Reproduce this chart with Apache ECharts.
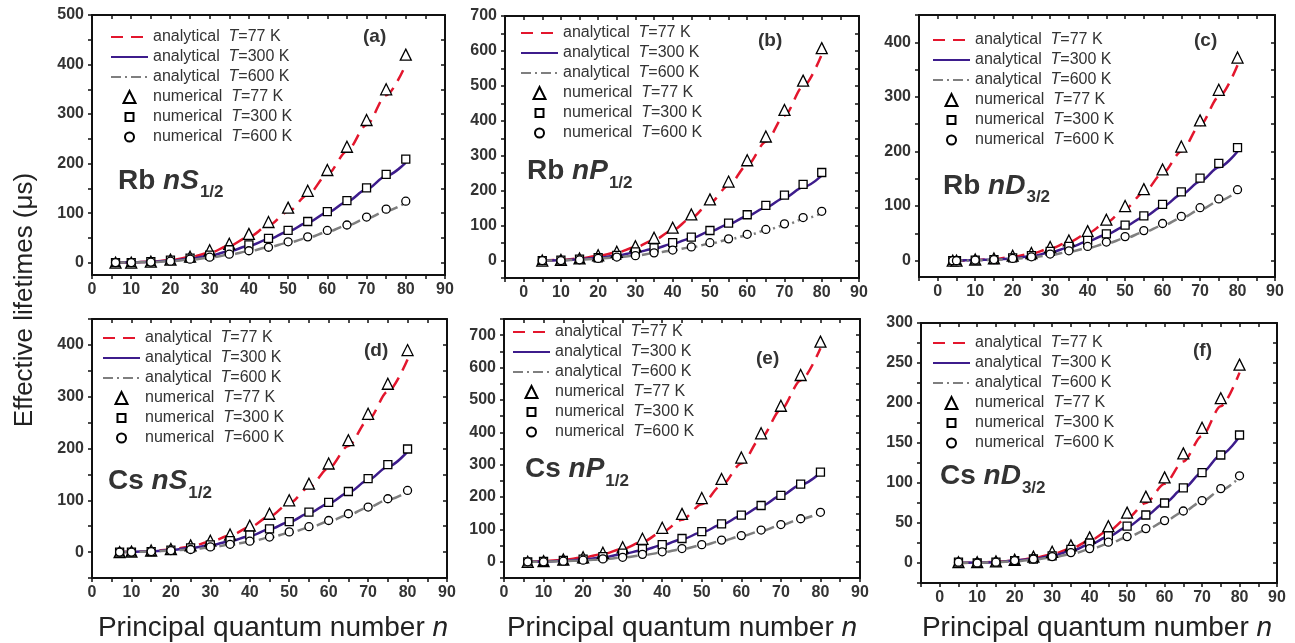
<!DOCTYPE html>
<html><head><meta charset="utf-8">
<script src="https://cdn.jsdelivr.net/npm/echarts@6/dist/echarts.min.js"></script>
<style>html,body{margin:0;padding:0;background:#fff}#c{width:1295px;height:643px}</style>
</head><body><div id="c"></div>
<script>
// ---------- DATA ----------
const seriesNames = ['analytical T=77 K','analytical T=300 K','analytical T=600 K','numerical T=77 K','numerical T=300 K','numerical T=600 K'];
const panelLetters = ['(a)','(b)','(c)','(d)','(e)','(f)'];
const xTickLabels = [0,10,20,30,40,50,60,70,80,90];

// (a) Rb nS1/2
const nA = [6,10,15,20,25,30,35,40,45,50,55,60,65,70,75,80];
const a_num77  = [0,0,2,6,12,25,38,58,82,111,145,187,234,288,350,420];
const a_num300 = [0,0,2,5,9,15,26,36,49,65,83,103,125,151,178,209];
const a_num600 = [0,0,1,3,7,11,17,24,31,42,52,65,76,92,108,124];
const a_ana77  = [0,0.5,2,5,11,20,34,52,75,103,137,178,225,278,338,400];
const a_ana300 = [0,0.5,2,4,8,14,23,34,47,63,81,101,123,148,175,202];
const a_ana600 = [0,0.3,1,3,6,10,16,23,31,40,50,62,75,89,104,121];
const yLabelsA = [0,100,200,300,400,500];

// (b) Rb nP1/2
const nB = [5,10,15,20,25,30,35,40,45,50,55,60,65,70,75,80];
const b_num77  = [0,2,6,15,25,41,65,94,132,175,226,287,355,431,515,608];
const b_num300 = [0,1,4,8,15,25,36,51,67,86,107,131,158,187,218,252];
const b_num600 = [0,0,2,6,10,14,22,30,39,51,62,75,89,105,123,141];
const b_ana77  = [0,2,6,13,23,38,59,87,122,165,215,273,340,415,498,590];
const b_ana300 = [0,1,4,8,14,23,34,48,64,83,104,127,152,180,210,243];
const b_ana600 = [0,0.5,2,5,9,14,21,29,38,48,60,72,86,101,118,136];
const yLabelsB = [0,100,200,300,400,500,600,700];

// (c) Rb nD3/2
const nC = [4,5,10,15,20,25,30,35,40,45,50,55,60,65,70,75,80];
const c_num77  = [0,0,2,4,9,14,25,37,54,75,100,131,167,209,257,313,372];
const c_num300 = [0,0,1,2,5,9,17,26,37,49,65,82,103,126,151,178,207];
const c_num600 = [0,0,1,2,4,7,12,18,26,34,44,55,68,81,97,113,130];
const c_ana77  = [0,0,1,3,7,13,22,34,50,70,95,125,160,200,248,300,358];
const c_ana300 = [0,0,1,2,4,8,15,24,35,48,63,80,99,121,145,171,200];
const c_ana600 = [0,0,0.5,1.5,3,6,10,16,23,31,41,52,64,78,93,109,127];
const yLabelsC = [0,100,200,300,400];

// (d) Cs nS1/2
const nD = [7,10,15,20,25,30,35,40,45,50,55,60,65,70,75,80];
const d_num77  = [0,1,3,6,13,22,34,51,74,100,132,171,216,267,325,390];
const d_num300 = [0,0,1,4,8,14,22,33,45,59,77,96,117,142,169,199];
const d_num600 = [0,0,1,3,5,10,15,21,29,39,49,61,74,87,103,119];
const d_ana77  = [0,0.5,2,5,11,20,32,48,69,94,125,162,205,255,310,372];
const d_ana300 = [0,0.5,1.5,4,8,13,21,31,44,58,75,94,115,139,165,194];
const d_ana600 = [0,0.3,1,3,5,9,14,20,28,37,47,59,72,86,101,117];
const yLabelsD = [0,100,200,300,400];

// (e) Cs nP1/2
const nE = [6,10,15,20,25,30,35,40,45,50,55,60,65,70,75,80];
const e_num77  = [0,2,7,14,28,45,71,105,148,197,256,322,397,482,577,680];
const e_num300 = [0,1,4,8,16,27,40,53,72,93,117,144,174,205,240,277];
const e_num600 = [0,0,2,5,9,14,23,31,41,53,67,81,98,115,133,153];
const e_ana77  = [0,2,6,13,24,40,62,92,130,178,236,304,383,470,560,660];
const e_ana300 = [0,1,3,7,14,24,36,51,70,91,115,142,172,204,238,275];
const e_ana600 = [0,0.5,2,4,8,13,20,29,39,51,64,79,95,113,132,152];
const yLabelsE = [0,100,200,300,400,500,600,700];

// (f) Cs nD3/2
const nF = [5,10,15,20,25,30,35,40,45,50,55,60,65,70,75,80];
const f_num77  = [1,1,2,4,8,14,22,32,46,63,83,107,137,169,206,248];
const f_num300 = [1,0,1,3,5,9,17,25,34,46,60,75,94,113,135,160];
const f_num600 = [1,0,1,3,5,8,13,18,26,33,43,53,65,78,93,109];
const f_ana77  = [0,0.5,1.5,3,6,11,18,28,40,56,75,99,127,159,196,238];
const f_ana300 = [0,0.5,1,3,5,9,15,23,33,45,59,75,93,113,135,158];
const f_ana600 = [0,0.3,1,2,4,7,11,17,24,32,41,52,64,77,91,107];
const yLabelsF = [0,50,100,150,200,250,300];

const panelTitles = [['Rb ','nS','1/2'],['Rb ','nP','1/2'],['Rb ','nD','3/2'],['Cs ','nS','1/2'],['Cs ','nP','1/2'],['Cs ','nD','3/2']];
const yAxisTitle = 'Effective lifetimes (\u03bcs)';
const xAxisTitle = ['Principal quantum number ', 'n'];

// ---------- LAYOUT ----------
const FONT = "'Liberation Sans', Arial, Helvetica, sans-serif";
const panels = [
  {n:nA, d:[a_ana77,a_ana300,a_ana600,a_num77,a_num300,a_num600], yl:yLabelsA, yStep:50,
   g:{left:92,top:15,width:353,height:260}, xmin:0, xmax:90, ymin:-25, ymax:500,
   leg:[110,27], let:[377,38], tit:[118,187,10]},
  {n:nB, d:[b_ana77,b_ana300,b_ana600,b_num77,b_num300,b_num600], yl:yLabelsB, yStep:50,
   g:{left:505,top:16,width:354,height:262}, xmin:-5, xmax:90, ymin:-50, ymax:700,
   leg:[520,23], let:[772,42], tit:[527,177,11]},
  {n:nC, d:[c_ana77,c_ana300,c_ana600,c_num77,c_num300,c_num600], yl:yLabelsC, yStep:50,
   g:{left:919,top:15,width:356,height:262}, xmin:-5, xmax:90, ymin:-30, ymax:450,
   leg:[932,30], let:[1208,42], tit:[943,192,10]},
  {n:nD, d:[d_ana77,d_ana300,d_ana600,d_num77,d_num300,d_num600], yl:yLabelsD, yStep:50,
   g:{left:92,top:319,width:355,height:259}, xmin:0, xmax:90, ymin:-50, ymax:450,
   leg:[102,328], let:[378,352], tit:[108,487,11]},
  {n:nE, d:[e_ana77,e_ana300,e_ana600,e_num77,e_num300,e_num600], yl:yLabelsE, yStep:50,
   g:{left:504,top:319,width:356,height:259}, xmin:0, xmax:90, ymin:-50, ymax:750,
   leg:[512,322], let:[770,360], tit:[525,475,11]},
  {n:nF, d:[f_ana77,f_ana300,f_ana600,f_num77,f_num300,f_num600], yl:yLabelsF, yStep:25,
   g:{left:921,top:323,width:356,height:260}, xmin:-5, xmax:90, ymin:-25, ymax:300,
   leg:[932,333], let:[1207,352], tit:[940,482,11]}
];

const AX = '#111', TXT = '#333';
const RED = '#e3162d', PURPLE = '#3d1c8c', GRAY = '#7f7f7f';
const lineStyles = [
  {color:RED, width:2.5, type:[12,8]},
  {color:PURPLE, width:2.5, type:'solid'},
  {color:GRAY, width:2.5, type:[10,4,2,4]}
];
const symbols = [['triangle',11],['rect',8],['circle',8]];
const legendSymSize = [12,8,9];

function range(a,b,s){const r=[];for(let v=a;v<=b+1e-9;v+=s)r.push(v);return r;}

const grid=[], xAxis=[], yAxis=[], series=[], legend=[], graphic=[];
const axisLabelStyle = {color:TXT, fontFamily:FONT, fontWeight:'bold', fontSize:16};

panels.forEach((p,i)=>{
  grid.push(Object.assign({containLabel:false}, p.g));
  const xt = range(Math.ceil(p.xmin/5)*5, p.xmax, 5);
  const yt = range(Math.ceil(p.ymin/p.yStep)*p.yStep, p.ymax, p.yStep);
  const common = {type:'value', gridIndex:i, splitLine:{show:false}};
  xAxis.push(Object.assign({}, common, {min:p.xmin, max:p.xmax, position:'bottom',
    axisLine:{show:true,onZero:false,lineStyle:{color:AX,width:2}},
    axisTick:{show:true,inside:false,length:4,customValues:xt,lineStyle:{color:AX,width:1.5}},
    axisLabel:Object.assign({show:true,margin:7,customValues:xTickLabels}, axisLabelStyle)}));
  yAxis.push(Object.assign({}, common, {min:p.ymin, max:p.ymax, position:'left',
    axisLine:{show:true,onZero:false,lineStyle:{color:AX,width:2}},
    axisTick:{show:true,inside:false,length:4,customValues:yt,lineStyle:{color:AX,width:1.5}},
    axisLabel:Object.assign({show:true,margin:8,customValues:p.yl}, axisLabelStyle)}));
});
panels.forEach((p,i)=>{
  const xt = range(Math.ceil(p.xmin/5)*5, p.xmax, 5);
  const yt = range(Math.ceil(p.ymin/p.yStep)*p.yStep, p.ymax, p.yStep);
  const common = {type:'value', gridIndex:i, splitLine:{show:false}};
  xAxis.push(Object.assign({}, common, {min:p.xmin, max:p.xmax, position:'top',
    axisLine:{show:true,onZero:false,lineStyle:{color:AX,width:2}},
    axisTick:{show:true,inside:true,length:4,customValues:xt,lineStyle:{color:AX,width:1.5}},
    axisLabel:{show:false}}));
  yAxis.push(Object.assign({}, common, {min:p.ymin, max:p.ymax, position:'right',
    axisLine:{show:true,onZero:false,lineStyle:{color:AX,width:2}},
    axisTick:{show:true,inside:true,length:4,customValues:yt,lineStyle:{color:AX,width:1.5}},
    axisLabel:{show:false}}));
});

const hiddenSym = {color:'rgba(0,0,0,0)', borderColor:'rgba(0,0,0,0)', borderWidth:0, opacity:0};
function legendFormatter(name){const m=name.match(/^(\S+) T(=.*)$/);return '{p|'+m[1]+'  }{i|T}{n|'+m[2]+'}';}
function legendText(pad){
  return {fontFamily:FONT, fontSize:16, color:TXT, lineHeight:20,
    rich:{p:{fontFamily:FONT,fontSize:16,color:TXT,lineHeight:20,padding:[0,0,0,pad]},
          n:{fontFamily:FONT,fontSize:16,color:TXT,lineHeight:20},
          i:{fontFamily:FONT,fontSize:16,color:TXT,fontStyle:'italic',lineHeight:20}}};
}

panels.forEach((p,i)=>{
  for(let k=0;k<3;k++){
    series.push({type:'line', name:seriesNames[k], xAxisIndex:i, yAxisIndex:i,
      data:p.n.map((x,j)=>[x,p.d[k][j]]), symbol:'none', smooth:0.3, smoothMonotone:'x',
      lineStyle:lineStyles[k], itemStyle:{color:lineStyles[k].color}, z:2, silent:true, animation:false});
  }
  for(let k=0;k<3;k++){
    series.push({type:'scatter', name:seriesNames[3+k], xAxisIndex:i, yAxisIndex:i,
      data:p.n.map((x,j)=>[x,p.d[3+k][j]]), symbol:symbols[k][0], symbolSize:symbols[k][1], symbolKeepAspect:true,
      itemStyle:{color:'#fff', borderColor:'#000', borderWidth:1.3, opacity:1}, z:3, silent:true, animation:false});
  }
  // analytical legend (3 rows)
  legend.push({left:p.leg[0], top:p.leg[1], orient:'vertical', padding:0, itemGap:0,
    itemWidth:37, itemHeight:9, selectedMode:false,
    data:seriesNames.slice(0,3).map(nm=>({name:nm, itemStyle:hiddenSym})),
    formatter:legendFormatter, textStyle:legendText(0)});
  // numerical legends, one per row so each symbol keeps its own size
  for(let k=0;k<3;k++){
    const s = legendSymSize[k];
    legend.push({left:p.leg[0]+18.5-s/2, top:p.leg[1]+20*(3+k), orient:'vertical', padding:0, itemGap:0,
      itemWidth:s, itemHeight:s, selectedMode:false,
      data:[{name:seriesNames[3+k], itemStyle:{color:'#fff', borderColor:'#000', borderWidth:2}}],
      formatter:legendFormatter, textStyle:legendText(18.5-s/2)});
  }
});

// measure text width for subscript placement
const mctx = document.createElement('canvas').getContext('2d');
function tw(txt, font){mctx.font=font;return mctx.measureText(txt).width;}

panels.forEach((p,i)=>{
  const t = panelTitles[i];
  const w = tw(t[0], "bold 28px "+FONT) + tw(t[1], "italic bold 28px "+FONT);
  graphic.push({type:'text', left:p.let[0]-14, top:p.let[1]-11, z:10,
    style:{text:panelLetters[i], font:"bold 19px "+FONT, fill:TXT}});
  graphic.push({type:'text', x:p.tit[0], y:p.tit[1]-20, z:10,
    style:{text:'{r|'+t[0]+'}{it|'+t[1]+'}', fill:TXT,
      rich:{r:{font:"bold 28px "+FONT, fill:TXT}, it:{font:"italic bold 28px "+FONT, fill:TXT}},
      verticalAlign:'top'}});
  graphic.push({type:'text', x:p.tit[0]+w+1, y:p.tit[1]+p.tit[2]-13, z:10,
    style:{text:t[2], font:"bold 17px "+FONT, fill:TXT, verticalAlign:'top'}});
});

graphic.push({type:'text', x:25, y:300, rotation:Math.PI/2, z:10,
  style:{text:yAxisTitle, font:"26px "+FONT, fill:'#222', align:'center', verticalAlign:'middle'}});
[273,682,1097].forEach(cx=>{
  graphic.push({type:'text', x:cx, y:628, z:10,
    style:{text:'{a|'+xAxisTitle[0]+'}{b|'+xAxisTitle[1]+'}', align:'center', verticalAlign:'middle',
      rich:{a:{font:"28px "+FONT, fill:'#222'}, b:{font:"italic 28px "+FONT, fill:'#222'}}}});
});

const chart = echarts.init(document.getElementById('c'), null, {renderer:'canvas'});
chart.setOption({animation:false, backgroundColor:'#fff', grid, xAxis, yAxis, series, legend, graphic});
</script></body></html>
